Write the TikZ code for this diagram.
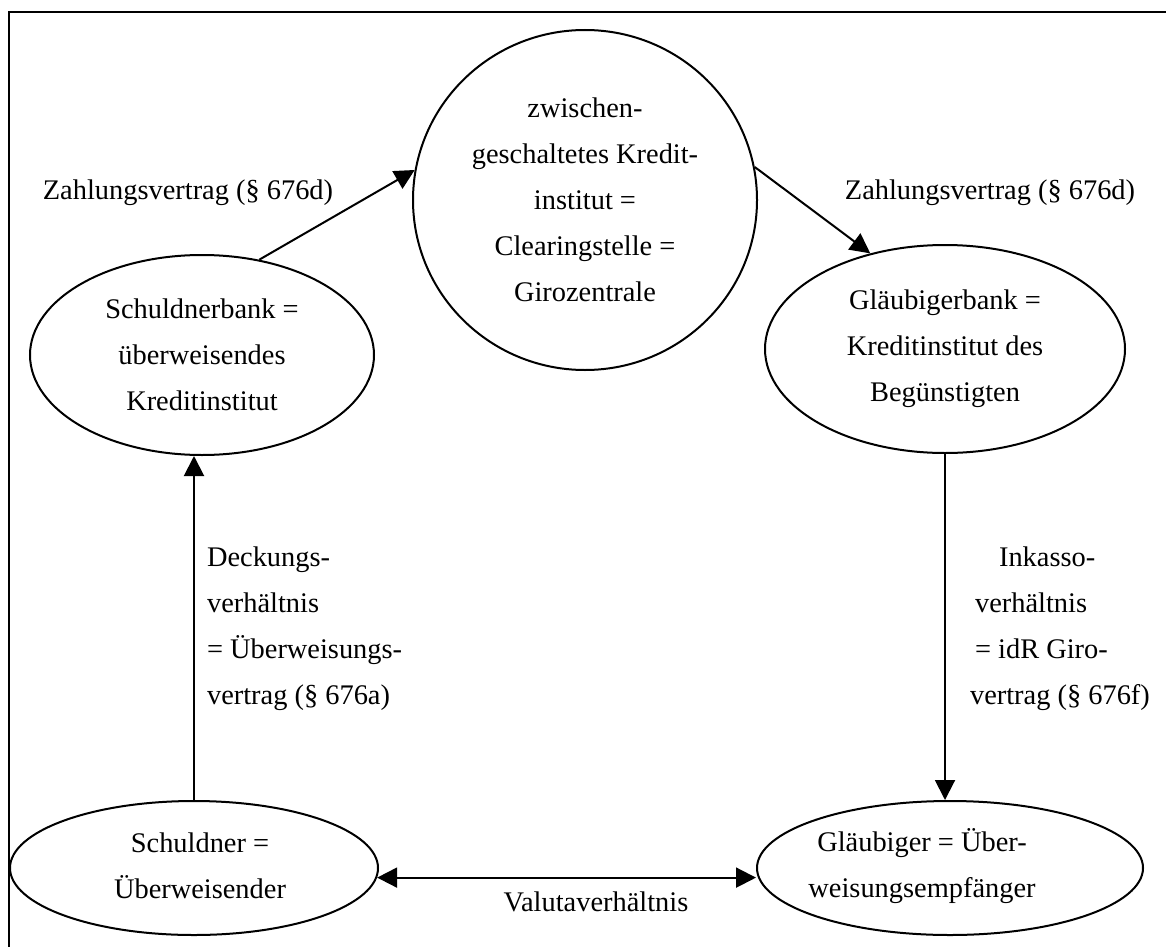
\documentclass[tikz,border=0pt]{standalone}
\usepackage{fontspec}
\setmainfont{Liberation Serif}
\usetikzlibrary{shapes.geometric, arrows.meta, positioning}

\tikzset{
  bubble/.style={draw, ellipse, line width=1pt, inner sep=0pt},
  txt/.style={align=center, font=\fontsize{14.2pt}{23pt}\selectfont},
  ltxt/.style={align=left, font=\fontsize{14.2pt}{23pt}\selectfont},
  arr/.style={-{Triangle[length=10pt,width=10pt]}, line width=1pt},
  dblarr/.style={{Triangle[length=10pt,width=10pt]}-{Triangle[length=10pt,width=10pt]}, line width=1pt}
}

\begin{document}
\begin{tikzpicture}[x=0.5pt,y=-0.5pt]
\useasboundingbox (0,0) rectangle (1166,947);
\draw [line width=1.2pt](1166,12) -- (9,12) -- (9,947);

% the five parties
\node[bubble, minimum width=172pt, minimum height=170pt] (clearing) at (585,200) {};
\node[txt] (clearingtext) at (clearing) {zwischen-\\geschaltetes Kredit-\\institut =\\Clearingstelle =\\Girozentrale};
\node[bubble, minimum width=172pt, minimum height=100pt] (schuldnerbank) at (202,355) {};
\node[txt] (schuldnerbanktext) at (schuldnerbank) {Schuldnerbank =\\überweisendes\\Kreditinstitut};
\node[bubble, minimum width=180pt, minimum height=104pt] (glaeubigerbank) at (945,349) {};
\node[txt] (glaeubigerbanktext) at (glaeubigerbank) {Gläubigerbank =\\Kreditinstitut des\\Begünstigten};
\node[bubble, minimum width=184pt, minimum height=67pt] (schuldner) at (194,868) {};
\node[txt] (schuldnertext) at (200,866) {Schuldner =\\Überweisender};
\node[bubble, minimum width=193pt, minimum height=67pt] (glaeubiger) at (950,868) {};
\node[txt] (glaeubigertext) at (922,866) {Gläubiger = Über-\\weisungsempfänger};

% relations
\draw [arr](schuldnerbank.59) -- (clearing.170);
\draw [arr](clearing.11) -- (glaeubigerbank.128);
\draw [arr](schuldner.north) -- (schuldner.north |- schuldnerbank.south);
\draw [arr](glaeubigerbank.south) -- (glaeubigerbank.south |- glaeubiger.north);
\draw [dblarr](schuldner.-3) -- (schuldner.-3 -| glaeubiger.west);

\node[txt] (zvlinks) at (188,193) {Zahlungsvertrag (§ 676d)};
\node[txt] (zvrechts) at (990,193) {Zahlungsvertrag (§ 676d)};
\node[ltxt, anchor=north west] (deckung) at (200,540) {Deckungs-\\verhältnis\\= Überweisungs-\\vertrag (§ 676a)};
\node[ltxt, anchor=north west] (inkasso) at (968,540) {\hspace*{12pt}Inkasso-\\verhältnis\\= idR Giro-\\\hspace*{-2.5pt}vertrag (§ 676f)};
\node[txt] (valuta) at (596,902) {Valutaverhältnis};
\end{tikzpicture}
\end{document}
